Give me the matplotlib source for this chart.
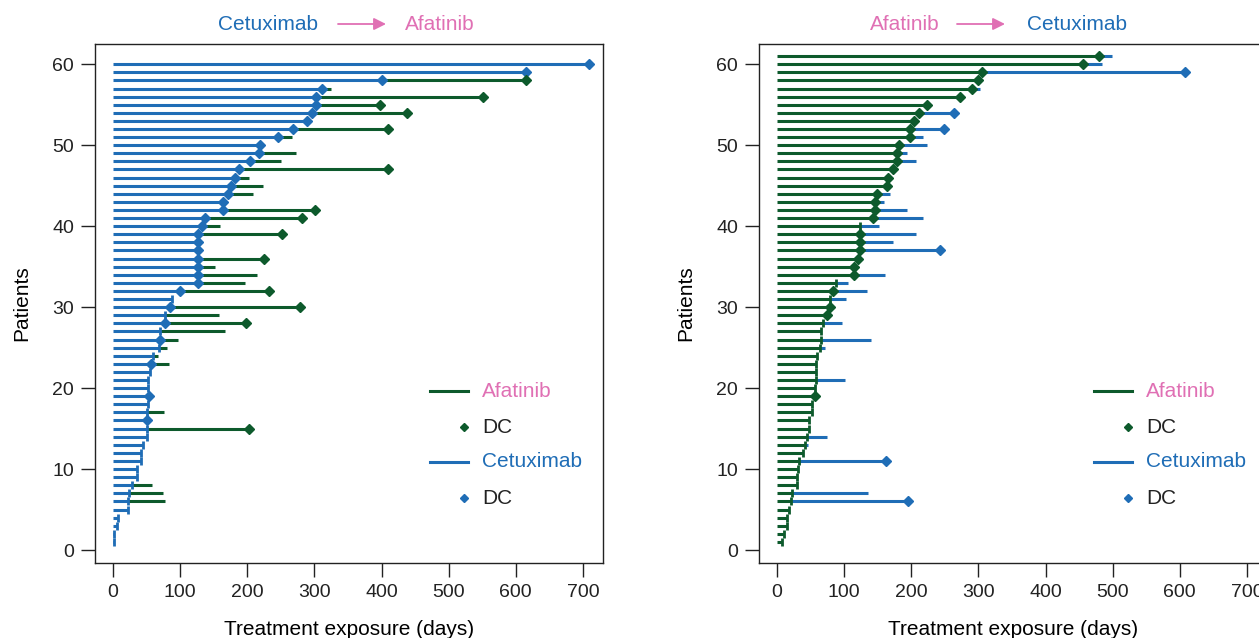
import matplotlib.pyplot as plt
from matplotlib.lines import Line2D

# left panel: cetuximab first, then afatinib (patients 1..60)
cet_switch_L = [1, 1, 6, 8, 22, 22, 24, 28, 36, 36, 42, 42, 44, 50, 50, 51, 50, 52, 53, 52,
                52, 55, 56, 59, 69, 70, 70, 78, 77, 85, 87, 100, 127, 127, 127, 127, 127, 127, 127, 133,
                137, 163, 163, 171, 176, 182, 188, 204, 218, 219, 246, 268, 289, 296, 302, 302, 312, 400, 616, 709]
end_L = [1, 1, 6, 8, 22, 77, 74, 58, 36, 36, 42, 42, 44, 50, 203, 51, 76, 52, 53, 52,
         52, 55, 84, 67, 80, 96, 167, 198, 158, 278, 87, 232, 197, 215, 152, 225, 127, 127, 252, 160,
         282, 301, 163, 208, 223, 202, 409, 250, 272, 219, 266, 409, 289, 438, 398, 551, 325, 615, 616, 709]
cet_dc_L = [0, 0, 0, 0, 0, 0, 0, 0, 0, 0, 0, 0, 0, 0, 0, 1, 0, 0, 1, 0,
            0, 0, 1, 0, 0, 1, 0, 1, 0, 1, 0, 1, 1, 1, 1, 1, 1, 1, 1, 1,
            1, 1, 1, 1, 1, 1, 1, 1, 1, 1, 1, 1, 1, 1, 1, 1, 1, 1, 1, 1]
afa_dc_L = [0, 0, 0, 0, 0, 0, 0, 0, 0, 0, 0, 0, 0, 0, 1, 0, 0, 0, 0, 0,
            0, 0, 0, 0, 0, 0, 0, 1, 0, 1, 0, 1, 0, 0, 0, 1, 0, 0, 1, 0,
            1, 1, 0, 0, 0, 0, 1, 0, 0, 0, 0, 1, 0, 1, 1, 1, 0, 1, 0, 0]

# right panel: afatinib first, then cetuximab (patients 1..61)
afa_switch_R = [8, 10, 14, 14, 18, 20, 22, 29, 29, 31, 32, 39, 42, 44, 47, 48, 52, 52, 56, 57,
                58, 58, 58, 60, 64, 66, 66, 68, 75, 79, 79, 83, 88, 114, 114, 121, 123, 123, 123, 123,
                143, 146, 146, 149, 163, 165, 172, 179, 179, 181, 198, 198, 204, 211, 224, 273, 291, 300, 306, 456, 479]
end_R = [8, 10, 14, 14, 18, 195, 136, 29, 29, 31, 162, 39, 46, 74, 47, 48, 52, 52, 56, 57,
         101, 58, 58, 60, 71, 140, 66, 97, 75, 79, 103, 134, 106, 161, 114, 121, 242, 172, 207, 152,
         218, 193, 160, 168, 163, 165, 172, 207, 193, 224, 218, 249, 204, 263, 224, 273, 302, 300, 608, 484, 499]
afa_dc_R = [0, 0, 0, 0, 0, 0, 0, 0, 0, 0, 0, 0, 0, 0, 0, 0, 0, 0, 1, 0,
            0, 0, 0, 0, 0, 0, 0, 0, 1, 1, 0, 1, 0, 1, 1, 1, 1, 1, 1, 0,
            1, 1, 1, 1, 1, 1, 1, 1, 1, 1, 1, 1, 1, 1, 1, 1, 1, 1, 1, 1, 1]
cet_dc_R = [0, 0, 0, 0, 0, 1, 0, 0, 0, 0, 1, 0, 0, 0, 0, 0, 0, 0, 0, 0,
            0, 0, 0, 0, 0, 0, 0, 0, 0, 0, 0, 0, 0, 0, 0, 0, 1, 0, 0, 0,
            0, 0, 0, 0, 0, 0, 0, 0, 0, 0, 0, 1, 0, 1, 0, 0, 0, 0, 1, 0, 0]

blue = '#1f6db6'
green = '#0d5a2c'
pink = '#e070b4'

W, H = 1259, 638
dpi = 100.
plt.rcParams.update({'font.family': ['Liberation Sans', 'DejaVu Sans'],
                     'font.size': 15,
                     'xtick.labelsize': 14,
                     'ytick.labelsize': 14})

fig = plt.figure(figsize=(W/dpi, H/dpi), dpi=dpi)
ax_w, ax_h = 508/W, 519/H
ax_b = 1 - 563/H
axL = fig.add_axes([95/W, ax_b, ax_w, ax_h])
axR = fig.add_axes([759/W, ax_b, ax_w, ax_h])

lw = 2.2


def draw_panel(ax, first, last, first_col, last_col, first_dc, last_dc):
    pts = list(range(1, len(first) + 1))
    ax.hlines(pts, 0, first, color=first_col, lw=lw)
    for p, s, e in zip(pts, first, last):
        if e > s:
            ax.hlines(p, s, e, color=last_col, lw=lw)
    for p, s, d in zip(pts, first, first_dc):
        if d:
            ax.plot(s, p, marker='D', ms=5.5, color=first_col, ls='none', zorder=4)
        else:
            ax.plot(s, p, marker='|', ms=6, mew=2, color=first_col, ls='none', zorder=4)
    for p, e, d in zip(pts, last, last_dc):
        if d:
            ax.plot(e, p, marker='D', ms=5.5, color=last_col, ls='none', zorder=4)

    ax.set_xlim(-27, 730)
    ax.set_ylim(-1.6, 62.5)
    ax.set_xticks(range(0, 701, 100))
    ax.set_yticks(range(0, 61, 10))
    ax.tick_params(direction='out', length=10, width=1, pad=5, colors='#222222')
    for s in ax.spines.values():
        s.set_linewidth(1)
        s.set_color('#222222')
    ax.set_xlabel('Treatment exposure (days)', labelpad=14)
    ax.set_ylabel('Patients', labelpad=15)

    # legend drawn by hand so the diamonds sit near the end of the handle
    rows = [0.331, 0.262, 0.195, 0.125]
    tr = ax.transAxes
    ax.add_line(Line2D([0.66, 0.735], [rows[0]] * 2, color=green, lw=lw, transform=tr))
    ax.add_line(Line2D([0.727], [rows[1]], marker='D', ms=4.5, color=green, transform=tr))
    ax.add_line(Line2D([0.66, 0.735], [rows[2]] * 2, color=blue, lw=lw, transform=tr))
    ax.add_line(Line2D([0.727], [rows[3]], marker='D', ms=4.5, color=blue, transform=tr))
    for r, t, c in zip(rows, ['Afatinib', 'DC', 'Cetuximab', 'DC'], [pink, '#222222', blue, '#222222']):
        ax.text(0.762, r, t, color=c, transform=tr, va='center', ha='left', fontsize=15)


draw_panel(axL, cet_switch_L, end_L, blue, green, cet_dc_L, afa_dc_L)
draw_panel(axR, afa_switch_R, end_R, green, blue, afa_dc_R, cet_dc_R)


def title(x0, a, ca, x1, x2, b, cb):
    y = H - 24
    fig.text(x0/W, y/H, a, color=ca, ha='left', va='center', fontsize=15)
    fig.text(x2/W, y/H, b, color=cb, ha='left', va='center', fontsize=15)
    fig.add_artist(plt.Annotation('', xy=(x1[1], y), xytext=(x1[0], y),
                                  xycoords='figure pixels',
                                  arrowprops=dict(arrowstyle='-|>', color=pink, lw=1.3,
                                                  mutation_scale=18, shrinkA=0, shrinkB=0)))


title(218, 'Cetuximab', blue, (338, 386), 405, 'Afatinib', pink)
title(870, 'Afatinib', pink, (957, 1005), 1027, 'Cetuximab', blue)

fig.savefig('out.png', dpi=dpi)
